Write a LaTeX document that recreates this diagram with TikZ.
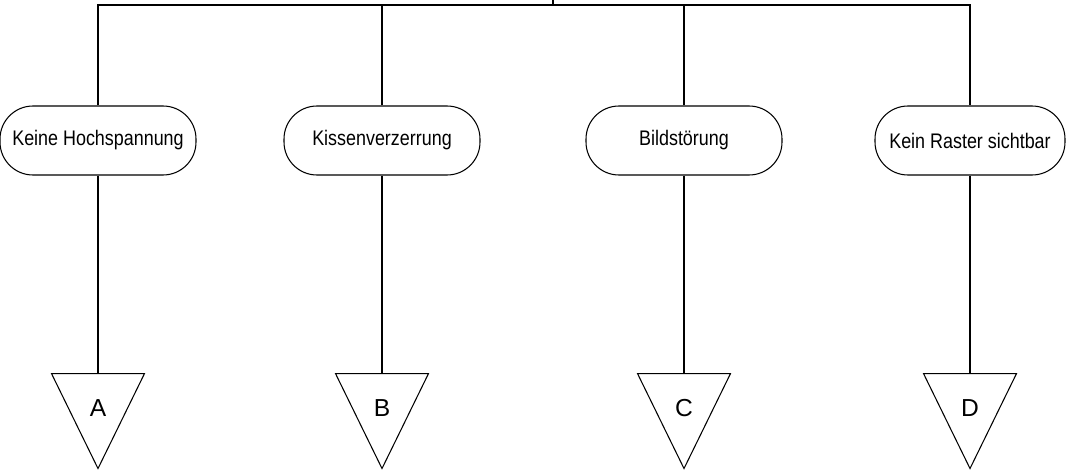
\documentclass[tikz,border=0pt]{standalone}
\usepackage{fontspec}
\setmainfont{Liberation Sans}[FakeStretch=0.85]
\newfontfamily\letterfont{Liberation Sans}
\usetikzlibrary{shapes}

\begin{document}
\begin{tikzpicture}[
fault/.style={draw,line width=0.6pt,rounded corners=0.66cm,minimum width=3.92cm,minimum height=1.38cm,inner sep=0pt,font=\fontsize{12}{14}\selectfont},
target/.style={draw,line width=0.6pt,isosceles triangle,shape border rotate=270,isosceles triangle stretches,minimum width=1.86cm,minimum height=1.9cm,inner sep=0pt},
letter/.style={inner sep=0pt,font=\letterfont\fontsize{14}{16}\selectfont},
stem/.style={line width=0.9pt},
lead/.style={line width=0.6pt}]
\useasboundingbox (0,0) rectangle (21.34,-9.44);
\coordinate (top) at (11.06,0);
\coordinate (bar) at (11.06,-0.1);
\node[fault] (k1) at (1.96,-2.81) {Keine Hochspannung};
\node[fault] (k2) at (7.64,-2.81) {Kissenverzerrung};
\node[fault] (k3) at (13.68,-2.81) {Bildstörung};
\node[fault,minimum width=3.8cm] (k4) at (19.4,-2.81) {Kein Raster sichtbar};
\node[target,anchor=north] (t1) at (1.96,-7.46) {};
\node[target,anchor=north] (t2) at (7.64,-7.46) {};
\node[target,anchor=north] (t3) at (13.68,-7.46) {};
\node[target,anchor=north] (t4) at (19.4,-7.46) {};
\node[letter] (a) at (1.96,-8.16) {A};
\node[letter] (b) at (7.64,-8.16) {B};
\node[letter] (c) at (13.68,-8.16) {C};
\node[letter] (d) at (19.4,-8.16) {D};
% oben
\draw[stem]
(top)--(bar)
(k1.north)--(k1.north|-bar)--(k4.north|-bar)--(k4.north)
(k2.north)--(k2.north|-bar)
(k3.north)--(k3.north|-bar)
;
% unten
\draw[lead]
(k1.south)--(t1.north)
(k2.south)--(t2.north)
(k3.south)--(t3.north)
(k4.south)--(t4.north)
;
\end{tikzpicture}
\end{document}
